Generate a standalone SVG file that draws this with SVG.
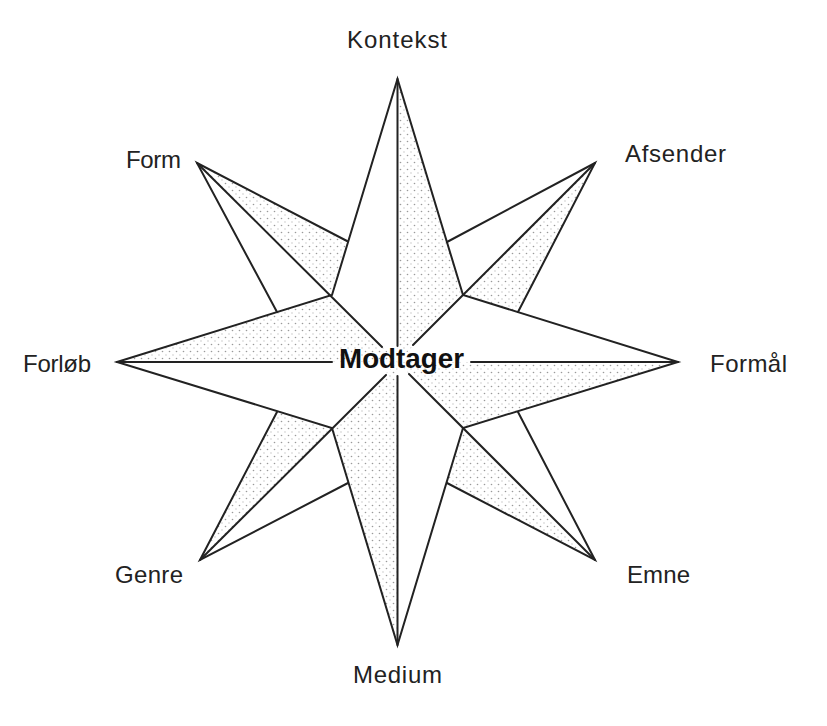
<svg xmlns="http://www.w3.org/2000/svg" width="827" height="726" viewBox="0 0 827 726">
<defs>
<pattern id="dots" width="7" height="7" patternUnits="userSpaceOnUse">
<circle cx="1.5" cy="1.5" r="0.8" fill="#9a9a9a"/>
<circle cx="5" cy="5" r="0.65" fill="#bdbdbd"/>
</pattern>
<style>
.lbl{font-family:"Liberation Sans",Arial,sans-serif;font-size:24px;fill:#222}
.ctr{font-family:"Liberation Sans",Arial,sans-serif;font-size:27px;font-weight:bold;fill:#111}
.edge{fill:none;stroke:#222;stroke-width:2;stroke-linejoin:miter;stroke-linecap:round}
.shade{fill:url(#dots);stroke:none}
</style>
</defs>
<rect width="827" height="726" fill="#fff"/>
<g id="shading">
<polygon class="shade" points="397.5,79 397.5,362 463,295"/>
<polygon class="shade" points="678,362 397.5,362 463,428"/>
<polygon class="shade" points="397.5,645 397.5,362 332,428"/>
<polygon class="shade" points="117,362 397.5,362 332,295"/>
<polygon class="shade" points="197,163 347,241 332,295"/>
<polygon class="shade" points="595,163 518,312 463,295"/>
<polygon class="shade" points="595,560 447,483 463,428"/>
<polygon class="shade" points="200,560 277,412 332,428"/>
</g>
<g id="star-outline">
<polygon class="edge" points="117,362 332,295 397.5,79 463,295 678,362 463,428 397.5,645 332,428"/>
<polyline class="edge" points="347,241 197,163 277,312"/>
<polyline class="edge" points="447,242 595,163 518,312"/>
<polyline class="edge" points="518,412 595,560 447,483"/>
<polyline class="edge" points="348,483 200,560 277,412"/>
</g>
<g id="connectors">
<line class="edge" x1="117" y1="362" x2="332" y2="362"/>
<line class="edge" x1="471" y1="362" x2="678" y2="362"/>
<line class="edge" x1="397.5" y1="79" x2="397.5" y2="346"/>
<line class="edge" x1="397.5" y1="376" x2="397.5" y2="645"/>
<line class="edge" x1="197" y1="163" x2="382" y2="347"/>
<line class="edge" x1="595" y1="163" x2="413" y2="345"/>
<line class="edge" x1="595" y1="560" x2="409" y2="374"/>
<line class="edge" x1="200" y1="560" x2="386" y2="375"/>
</g>
<g id="node-modtager"><text class="ctr" x="339" y="368" textLength="125" lengthAdjust="spacingAndGlyphs">Modtager</text></g>
<g id="node-kontekst"><text class="lbl" x="347" y="48" textLength="100">Kontekst</text></g>
<g id="node-afsender"><text class="lbl" x="625" y="162" textLength="101">Afsender</text></g>
<g id="node-formaal"><text class="lbl" x="710" y="372" textLength="77">Formål</text></g>
<g id="node-emne"><text class="lbl" x="627" y="583" textLength="63">Emne</text></g>
<g id="node-medium"><text class="lbl" x="353" y="683" textLength="89">Medium</text></g>
<g id="node-genre"><text class="lbl" x="115" y="583" textLength="68">Genre</text></g>
<g id="node-forloeb"><text class="lbl" x="23" y="372" textLength="68">Forløb</text></g>
<g id="node-form"><text class="lbl" x="126" y="168" textLength="55">Form</text></g>
</svg>
